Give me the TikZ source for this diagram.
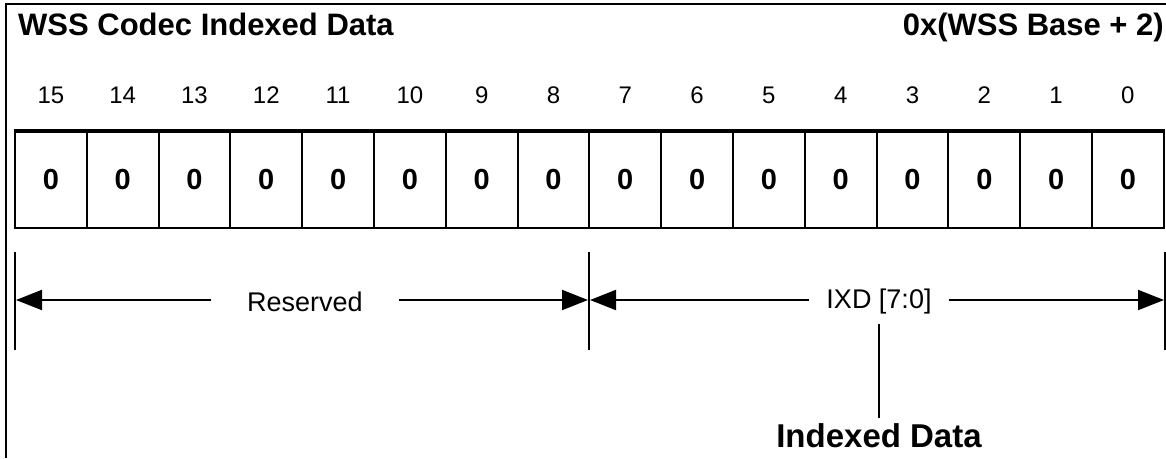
\documentclass[tikz,border=0pt]{standalone}
\usepackage{fontspec}
\setmainfont{Liberation Sans}
\usepackage{tikz}
\usetikzlibrary{arrows.meta, positioning, calc}
\tikzset{
    regtitle/.style={font=\fontsize{31}{33}\selectfont\bfseries, inner sep=0pt},
    bitnum/.style={font=\fontsize{24}{26}\selectfont, inner sep=0pt},
    bitcell/.style={rectangle, draw, line width=2pt, minimum width=71.8pt, minimum height=96pt, inner sep=0pt, font=\fontsize{29}{31}\selectfont\bfseries},
    fieldtick/.style={line width=2pt},
    fieldarrow/.style={-{Triangle[length=26pt, width=20pt]}, line width=2pt, shorten >=1pt},
    fieldlabel/.style={inner ysep=0pt, font=\fontsize{27}{29}\selectfont},
    notelabel/.style={inner sep=0pt, font=\fontsize{33}{35}\selectfont\bfseries}
}

\begin{document}
\begin{tikzpicture}[x=1pt, y=-1pt]
    \useasboundingbox (0,0) rectangle (1166,458);

    % Frame
    \draw[line width=2.5pt] (6,458) -- (6,4) -- (1166,4);

    % Header
    \node[regtitle, anchor=base west] (title) at (18,35) {WSS Codec Indexed Data};
    \node[regtitle, anchor=base east] (addr) at (1164,35) {0x(WSS Base + 2)};

    % Register bits
    \foreach \b [count=\i from 0] in {15,14,...,0} {
        \node[bitcell] (c\b) at ({50.9+71.8*\i},180) {0};
        \node[bitnum, above=27pt of c\b] (n\b) {\b};
    }
    \draw[line width=4pt] (c15.north west) -- (c0.north east);

    % Field limits
    \foreach \t/\x in {lt/15, mt/589, rt/1165} {
        \draw[fieldtick] (\x,252) -- (\x,350);
        \coordinate (\t) at (\x,300);
    }

    % Fields
    \node[fieldlabel, inner xsep=36pt] (res) at (305,302) {Reserved};
    \node[fieldlabel, inner xsep=17pt] (ixd) at (879,302) {IXD [7:0]};
    \node[notelabel] (idata) at (879,436) {Indexed Data};

    % Arrows
    \draw[fieldarrow] (lt -| res.west) -- (lt);
    \draw[fieldarrow] (mt -| res.east) -- (mt);
    \draw[fieldarrow] (mt -| ixd.west) -- (mt);
    \draw[fieldarrow] (rt -| ixd.east) -- (rt);
    \draw[fieldtick, shorten <=9pt, shorten >=6pt] (ixd) -- (idata);
\end{tikzpicture}
\end{document}
